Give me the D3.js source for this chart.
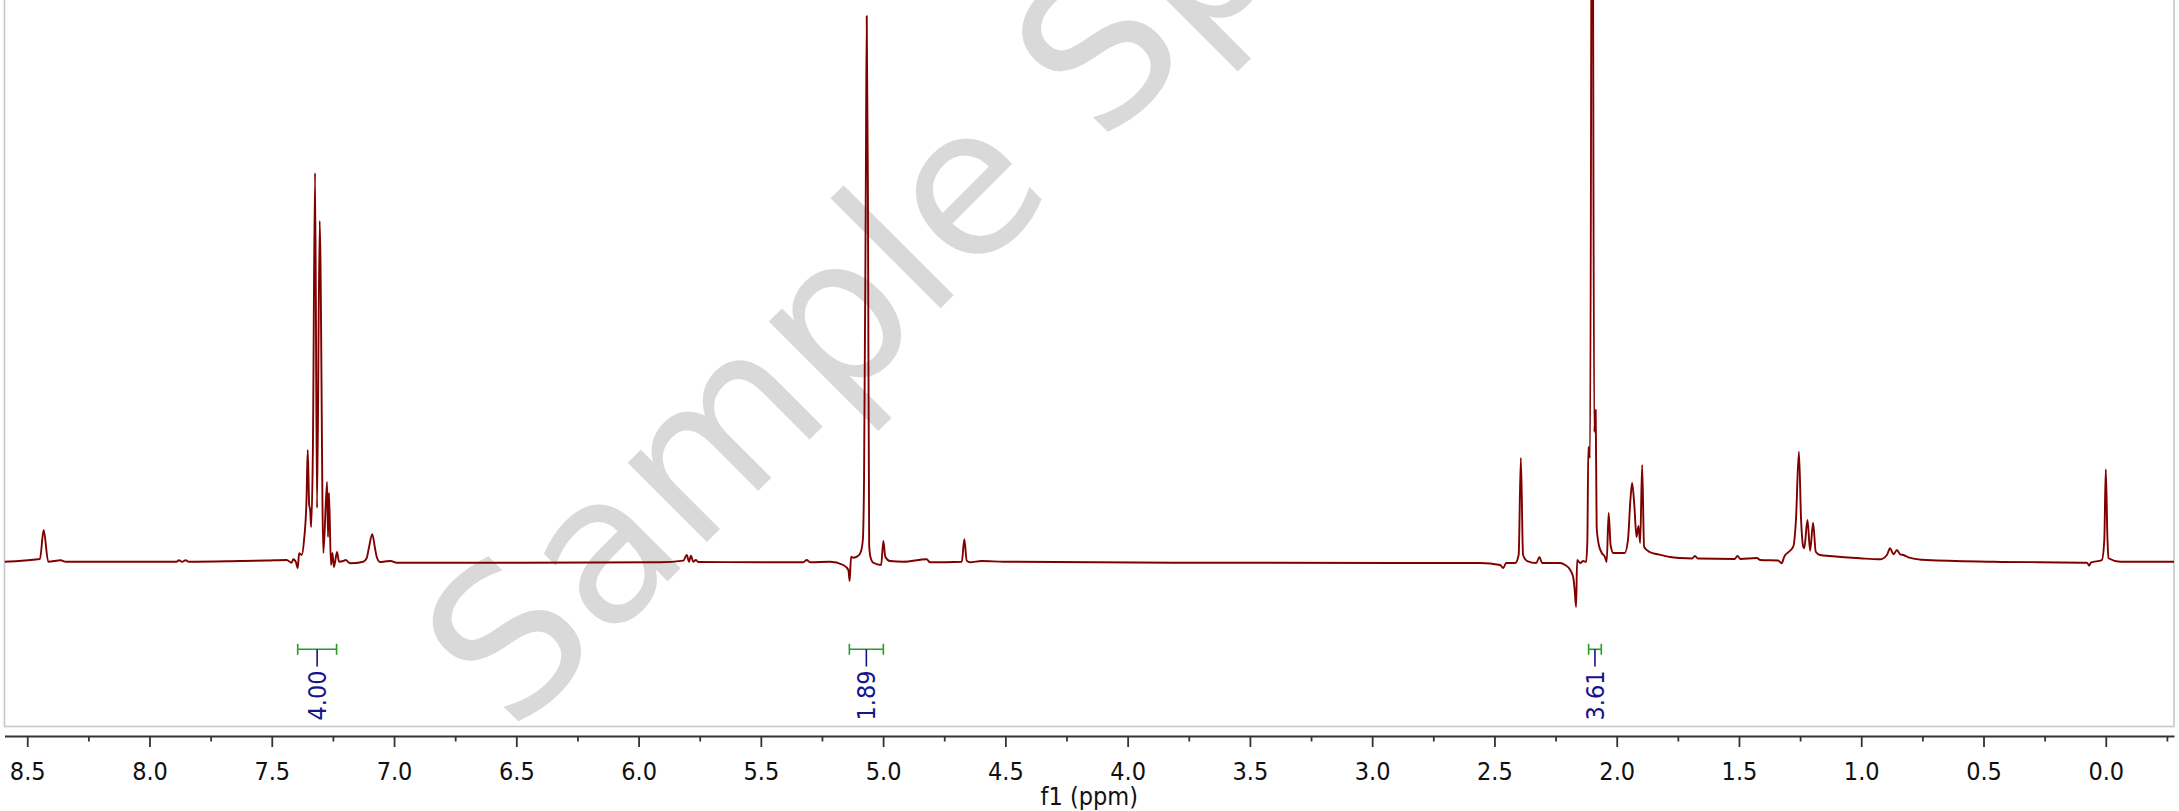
<!DOCTYPE html>
<html><head><meta charset="utf-8">
<script src="https://cdn.jsdelivr.net/npm/d3@7"></script>
<style>html,body{margin:0;padding:0;background:#fff;overflow:hidden}</style>
</head><body>
<svg id="chart" width="2179" height="811"></svg>
<script>
// chemical shift (ppm) of each sampled point of the 1H spectrum
const ppm = [8.593,8.448,8.433,8.414,8.363,8.342,7.889,7.880,7.867,7.852,7.839,7.630,7.520,7.439,7.419,7.412,7.401,7.394,7.388,7.378,
7.368,7.358,7.353,7.347,7.343,7.339,7.332,7.323,7.315,7.304,7.289,7.274,7.270,7.266,7.258,7.252,7.246,7.233,7.225,7.208,
7.198,7.180,7.126,7.112,7.103,7.089,7.078,7.071,7.057,7.037,7.014,6.989,6.485,5.912,5.817,5.803,5.794,5.786,5.776,5.766,
5.756,5.327,5.312,5.299,5.217,5.163,5.142,5.137,5.131,5.122,5.102,5.091,5.083,5.078,5.071,5.067,5.062,5.057,5.052,5.040,
5.008,4.999,4.991,4.972,4.917,4.822,4.808,4.678,4.668,4.658,4.645,4.597,4.508,3.786,2.900,2.558,2.477,2.464,2.452,2.415,
2.401,2.392,2.383,2.366,2.329,2.316,2.305,2.231,2.211,2.190,2.178,2.172,2.166,2.162,2.149,2.137,2.125,2.120,2.116,2.109,
2.100,2.092,2.086,2.082,2.073,2.061,2.048,2.041,2.033,2.025,2.014,1.967,1.954,1.944,1.937,1.928,1.919,1.911,1.904,1.896,
1.888,1.865,1.828,1.782,1.741,1.692,1.680,1.668,1.518,1.506,1.494,1.427,1.413,1.340,1.325,1.316,1.278,1.267,1.255,1.246,
1.237,1.233,1.220,1.209,1.197,1.186,1.168,1.128,1.005,0.923,0.895,0.882,0.868,0.854,0.841,0.827,0.807,0.732,0.459,0.077,
0.068,0.061,0.016,0.006,0.000,-0.007,-0.011,-0.059,-0.279];
// relative intensity (the 5.07 ppm singlet = 100)
const intensity = [-0.04,0.46,5.77,-0.04,0.22,-0.04,-0.04,0.22,-0.04,0.22,-0.04,0.09,0.18,0.27,-0.22,0.40,-0.18,-1.19,1.50,1.19,
3.94,11.27,20.44,10.36,9.44,6.32,20.07,71.22,9.81,62.42,1.56,14.57,4.49,12.56,-0.64,1.56,-1.01,1.74,-0.04,0.09,
0.27,-0.33,-0.04,0.59,2.47,4.99,2.47,0.88,-0.09,0,0.09,-0.22,-0.22,-0.15,0.15,1.19,-0.04,1.06,-0.04,0.27,
-0.09,-0.15,0.27,-0.15,-0.04,-0.64,-1.56,-3.57,0.88,0.70,1.06,1.80,3.94,14.94,66.18,100,66.18,3.02,0.88,-0.22,
-0.64,3.76,0.88,0.09,-0.04,0.40,-0.15,-0.04,4.07,0.15,-0.15,0.09,-0.04,-0.22,-0.27,-0.27,-0.64,-1.19,-0.27,-0.27,
1.19,18.97,1.19,0.09,-0.27,0.82,-0.27,-0.27,-0.64,-1.56,-2.84,-5.22,-8.34,0.27,-0.27,0.09,-0.09,3.94,20.99,18.97,
160,23.74,27.77,6.32,3.02,1.56,0.82,-0.09,8.89,3.02,1.56,1.56,3.94,11.27,14.39,10.36,4.49,6.51,3.39,17.69,
2.66,1.74,1.28,0.82,0.64,0.55,1.01,0.55,0.46,1.01,0.46,0.64,0.27,0.18,-0.33,0.77,2.71,7.61,20.13,7.61,
2.71,2.42,7.61,1.98,7.11,1.80,1.19,1.01,0.59,0.40,1.19,2.42,1.32,2.11,1.32,1.19,0.77,0.27,-0.04,-0.22,
-0.77,-0.22,0.27,3.94,16.90,3.94,0.59,-0.04,-0.04];

const majorTicks = [8.5,8.0,7.5,7.0,6.5,6.0,5.5,5.0,4.5,4.0,3.5,3.0,2.5,2.0,1.5,1.0,0.5,0.0];
const minorTicks = [8.25,7.75,7.25,6.75,6.25,5.75,5.25,4.75,4.25,3.75,3.25,2.75,2.25,1.75,1.25,0.75,0.25,-0.25];
const ppmDomain = [8.593, -0.279];

const integralFrom = [7.394, 5.138, 2.115];
const integralTo = [7.235, 4.999, 2.063];
const integralValues = ["4.00", "1.89", "3.61"];

const axisTitle = "f1 (ppm)";
const watermarkText = "Sample Spectrum";

// ---------- drawing ----------
const svg = d3.select("#chart");
const W = 2179, H = 811;
const plot = {left: 4.5, right: 2174, top: -2, bottom: 726.5};
const baseY = 561.5, topY = 16;
const FONT = "'DejaVu Sans Condensed','DejaVu Sans',sans-serif";

const x = d3.scaleLinear().domain(ppmDomain).range([plot.left, plot.right]);
const y = d3.scaleLinear().domain([0, 100]).range([baseY, topY]);

svg.append("rect").attr("width", W).attr("height", H).attr("fill", "#fff");

// watermark
svg.append("text")
  .attr("transform", "translate(513,736) rotate(-45)")
  .attr("font-family", "'DejaVu Sans',Verdana,sans-serif")
  .attr("font-size", 205)
  .attr("fill", "#d9d9d9")
  .text(watermarkText);

// plot frame
svg.append("rect")
  .attr("x", plot.left).attr("y", plot.top)
  .attr("width", plot.right - plot.left).attr("height", plot.bottom - plot.top)
  .attr("fill", "none").attr("stroke", "#c8c8c8").attr("stroke-width", 1.6);

svg.append("clipPath").attr("id", "clip").append("rect")
  .attr("x", plot.left).attr("y", 0)
  .attr("width", plot.right - plot.left).attr("height", plot.bottom);

const pts = ppm.map((p, i) => [p, intensity[i]]);
const line = d3.line().x(d => x(d[0])).y(d => y(d[1])).curve(d3.curveMonotoneX);
svg.append("path")
  .datum(pts)
  .attr("clip-path", "url(#clip)")
  .attr("d", line)
  .attr("fill", "none")
  .attr("stroke", "#800000")
  .attr("stroke-width", 1.9)
  .attr("stroke-linejoin", "round");

// integrals
const bracketY = 649.3;
const integ = svg.append("g");
integralValues.forEach((lab, i) => {
  const x1 = x(integralFrom[i]), x2 = x(integralTo[i]);
  const cx = (x1 + x2) / 2;
  const g = integ.append("g");
  g.append("line").attr("x1", x1).attr("x2", x2).attr("y1", bracketY).attr("y2", bracketY)
    .attr("stroke", "#2b9a2b").attr("stroke-width", 1.6);
  [x1, x2].forEach(xx => g.append("line").attr("x1", xx).attr("x2", xx)
    .attr("y1", bracketY - 5.5).attr("y2", bracketY + 5.5)
    .attr("stroke", "#2b9a2b").attr("stroke-width", 1.6));
  g.append("line").attr("x1", cx).attr("x2", cx).attr("y1", bracketY).attr("y2", 666.5)
    .attr("stroke", "#14148c").attr("stroke-width", 1.6);
  g.append("text")
    .attr("transform", `translate(${cx},670.5) rotate(-90)`)
    .attr("text-anchor", "end")
    .attr("dy", "0.36em")
    .attr("font-family", FONT)
    .attr("font-size", 25)
    .attr("fill", "#14148c")
    .text(lab);
});

// axis
const axisY = 736;
const axisMajor = d3.axisBottom(x).tickValues(majorTicks).tickSize(11).tickSizeOuter(0)
  .tickPadding(15).tickFormat(d3.format(".1f"));
const gAxis = svg.append("g").attr("transform", `translate(0,${axisY})`).call(axisMajor);
gAxis.select(".domain").attr("stroke", "#333").attr("stroke-width", 2.2);
gAxis.selectAll(".tick line").attr("stroke", "#333").attr("stroke-width", 1.8);
gAxis.selectAll(".tick text").attr("font-family", FONT).attr("font-size", 25).attr("fill", "#111");

const axisMinor = d3.axisBottom(x).tickValues(minorTicks).tickSize(5.5).tickSizeOuter(0).tickFormat("");
const gMinor = svg.append("g").attr("transform", `translate(0,${axisY})`).call(axisMinor);
gMinor.select(".domain").remove();
gMinor.selectAll(".tick line").attr("stroke", "#333").attr("stroke-width", 1.8);

svg.append("text")
  .attr("x", (plot.left + plot.right) / 2).attr("y", 805)
  .attr("text-anchor", "middle")
  .attr("font-family", FONT).attr("font-size", 25).attr("fill", "#111")
  .text(axisTitle);
</script>
</body></html>
